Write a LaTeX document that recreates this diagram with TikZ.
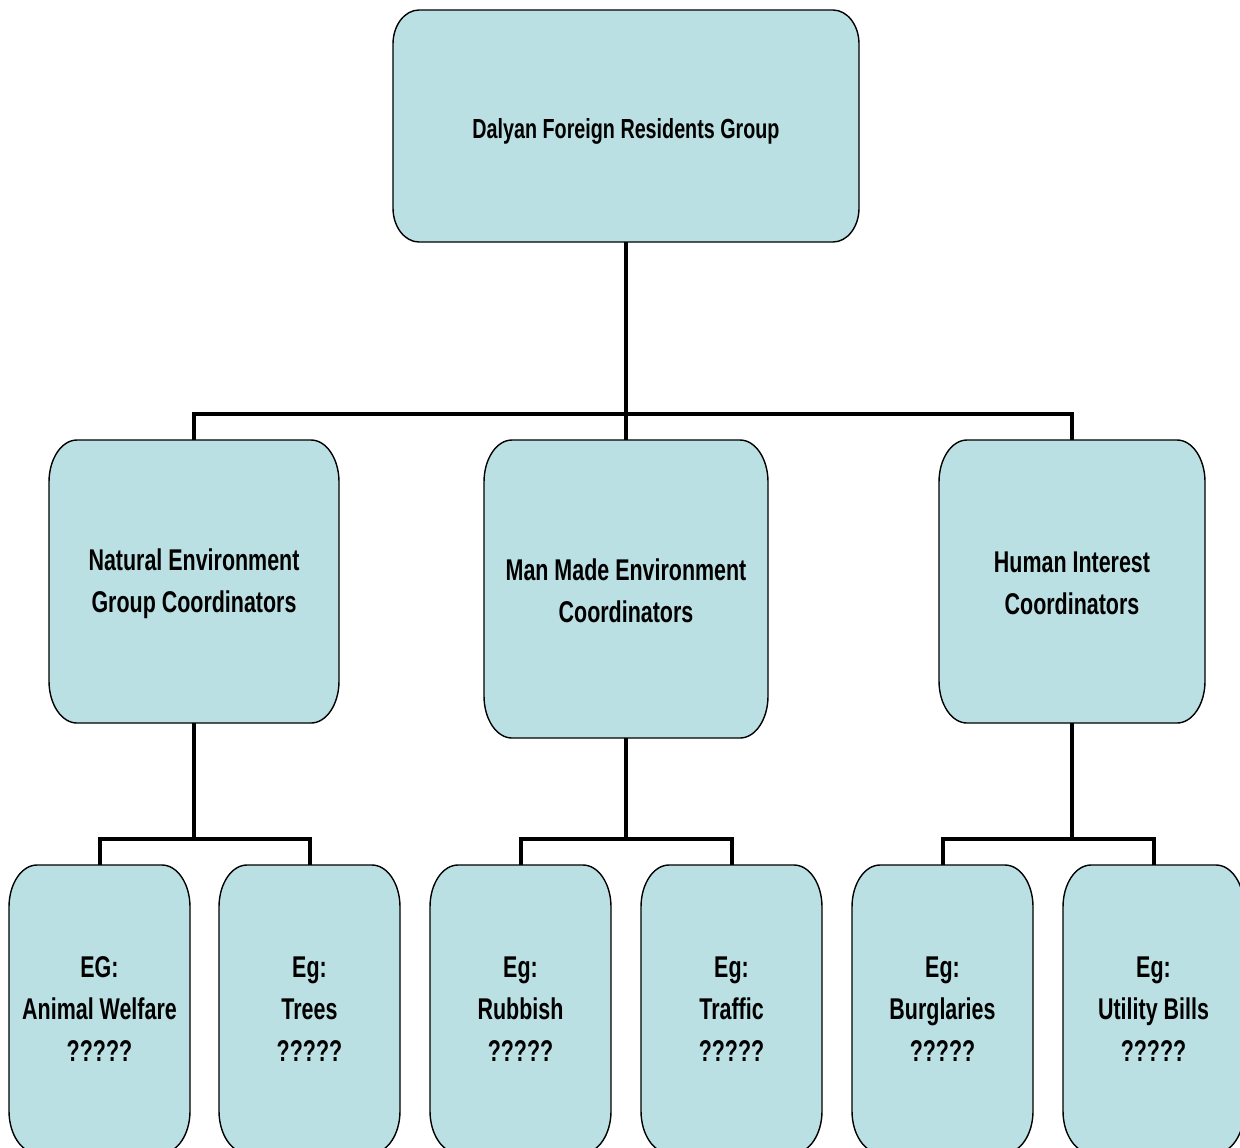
\documentclass[tikz,border=0pt]{standalone}
\usepackage{fontspec}
\newfontfamily\nfont{Liberation Sans}[FakeStretch=0.715]
\usetikzlibrary{backgrounds,fit}
\definecolor{boxfill}{RGB}{187,224,227}
\tikzset{
  bx/.style={fill=boxfill, draw=black, line width=0.7pt},
  conn/.style={line width=2pt, draw=black},
  frame/.style={inner sep=0pt, outer sep=0pt},
  txt/.style={inner sep=0pt, outer sep=0pt, align=center, yshift=-1pt,
    font=\nfont\bfseries\fontsize{15}{21}\selectfont},
  toptxt/.style={yshift=-1.5pt, font=\nfont\bfseries\fontsize{13.8}{19}\selectfont}
}
% name, x1, y1, x2, y2, rx, ry, extra text style, text
\newcommand\rbox[9]{%
  \node[frame, fit={(#2,#3) (#4,#5)}] (#1) {};
  \begin{scope}[on background layer]
    \path[bx] ([xshift=#6]#1.north west) -- ([xshift=-#6]#1.north east)
      arc[start angle=90, end angle=0, x radius=#6, y radius=#7]
      -- ([yshift=#7]#1.south east)
      arc[start angle=0, end angle=-90, x radius=#6, y radius=#7]
      -- ([xshift=#6]#1.south west)
      arc[start angle=270, end angle=180, x radius=#6, y radius=#7]
      -- ([yshift=-#7]#1.north west)
      arc[start angle=180, end angle=90, x radius=#6, y radius=#7]
      -- cycle;
  \end{scope}
  \node[txt, #8] (#1-t) at (#1.center) {#9};}
\begin{document}
\begin{tikzpicture}[x=0.5pt, y=-0.5pt]
\useasboundingbox (0,0) rectangle (1240,1147);
\begin{scope}[on background layer]
\fill[white] (0,0) rectangle (1240,1147);
\end{scope}

\rbox{top}{393}{10}{859}{242}{13pt}{17pt}{toptxt}{Dalyan Foreign Residents Group}

\rbox{m1}{49}{440}{339}{723}{14pt}{21pt}{}{Natural Environment\\Group Coordinators}
\rbox{m2}{484}{440}{768}{738}{14pt}{21pt}{}{Man Made Environment\\Coordinators}
\rbox{m3}{939}{440}{1205}{723}{14pt}{21pt}{}{Human Interest\\Coordinators}

\rbox{b1}{9}{865}{190}{1153}{14pt}{21pt}{yshift=1pt}{EG:\\Animal Welfare\\?????}
\rbox{b2}{219}{865}{400}{1153}{14pt}{21pt}{yshift=1pt}{Eg:\\Trees\\?????}
\rbox{b3}{430}{865}{611}{1153}{14pt}{21pt}{yshift=1pt}{Eg:\\Rubbish\\?????}
\rbox{b4}{641}{865}{822}{1153}{14pt}{21pt}{yshift=1pt}{Eg:\\Traffic\\?????}
\rbox{b5}{852}{865}{1033}{1153}{14pt}{21pt}{yshift=1pt}{Eg:\\Burglaries\\?????}
\rbox{b6}{1063}{865}{1244}{1153}{14pt}{21pt}{yshift=1pt}{Eg:\\Utility Bills\\?????}

\coordinate (bus) at (626,414);
\coordinate (bus1) at (194,839);
\coordinate (bus2) at (626,839);
\coordinate (bus3) at (1072,839);

\draw[conn] (top.south) -- (m2.north);
\draw[conn] (m1.north) -- (m1.north |- bus) -- (m3.north |- bus) -- (m3.north);

\draw[conn] (m1.south) -- (bus1);
\draw[conn] (b1.north) -- (b1.north |- bus1) -- (b2.north |- bus1) -- (b2.north);
\draw[conn] (m2.south) -- (bus2);
\draw[conn] (b3.north) -- (b3.north |- bus2) -- (b4.north |- bus2) -- (b4.north);
\draw[conn] (m3.south) -- (bus3);
\draw[conn] (b5.north) -- (b5.north |- bus3) -- (b6.north |- bus3) -- (b6.north);
\end{tikzpicture}
\end{document}
